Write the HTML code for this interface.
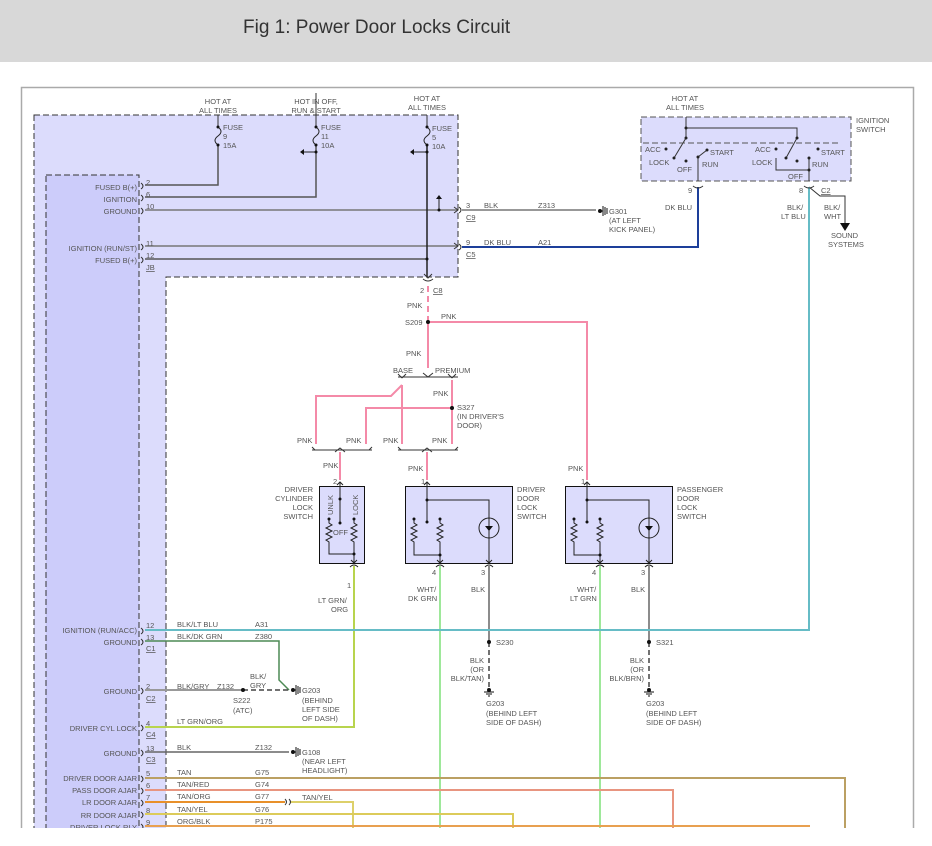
<!DOCTYPE html>
<html><head><meta charset="utf-8"><style>
html,body{margin:0;padding:0;background:#fff;width:932px;height:846px;overflow:hidden}
svg{display:block}
text{font-family:"Liberation Sans",sans-serif;font-size:7.5px;fill:#555}
.r{text-anchor:end}
.u{text-decoration:underline}
</style></head><body>
<svg width="932" height="846" viewBox="0 0 932 846" xmlns="http://www.w3.org/2000/svg">
<rect x="0" y="0" width="932" height="62" fill="#d8d8d8"/>
<text x="243" y="33" style="font-size:19px;fill:#333">Fig 1: Power Door Locks Circuit</text>
<rect x="21.5" y="87.5" width="892" height="770" fill="none" stroke="#aaa" stroke-width="1.5"/>

<!-- module -->
<path d="M34,115 H458 V277 H166 V846 H34 Z" fill="#dcdcfc" stroke="#333" stroke-dasharray="6,3"/>
<path d="M46,175 H139 V846 H46 Z" fill="#ccccfa" stroke="#333" stroke-dasharray="6,3"/>

<!-- ignition switch box -->
<rect x="641" y="117" width="210" height="64" fill="#dcdcfc" stroke="#555" stroke-dasharray="6,3"/>
<text x="856" y="123">IGNITION</text><text x="856" y="132">SWITCH</text>
<text x="685" y="101" text-anchor="middle">HOT AT</text><text x="685" y="110" text-anchor="middle">ALL TIMES</text>
<g stroke="#333" fill="none" stroke-width="1">
<path d="M686,117 V128 H797 V138"/><path d="M686,128 V138"/>
<path d="M686,138 L674,158"/><path d="M797,138 L786,158"/>
<path d="M698,157 L707,150"/><path d="M698,157 V181"/>
<path d="M776,158 V170 H809 V181"/><path d="M809,158 V170"/>
<path d="M643,143 H841" stroke-dasharray="6,3" stroke="#555"/>
</g>
<g fill="#222"><circle cx="686" cy="128" r="1.5"/><circle cx="686" cy="138" r="1.5"/><circle cx="797" cy="138" r="1.5"/><circle cx="666" cy="149" r="1.5"/><circle cx="674" cy="158" r="1.5"/><circle cx="686" cy="161" r="1.5"/><circle cx="707" cy="150" r="1.5"/><circle cx="698" cy="157" r="1.5"/><circle cx="776" cy="149" r="1.5"/><circle cx="786" cy="158" r="1.5"/><circle cx="797" cy="161" r="1.5"/><circle cx="818" cy="149" r="1.5"/><circle cx="809" cy="158" r="1.5"/><circle cx="809" cy="170" r="1.5"/></g>
<text x="645" y="152">ACC</text><text x="649" y="165">LOCK</text><text x="677" y="172">OFF</text><text x="710" y="155">START</text><text x="702" y="167">RUN</text>
<text x="755" y="152">ACC</text><text x="752" y="165">LOCK</text><text x="788" y="179">OFF</text><text x="821" y="155">START</text><text x="812" y="167">RUN</text>
<text x="688" y="193">9</text><text x="799" y="193">8</text><text x="821" y="193" class="u">C2</text>
<text x="665" y="210">DK BLU</text><text x="787" y="210">BLK/</text><text x="781" y="219">LT BLU</text>
<text x="824" y="210">BLK/</text><text x="824" y="219">WHT</text>
<text x="831" y="238">SOUND</text><text x="828" y="247">SYSTEMS</text>
<path d="M809,187 L820,196 H845 V226" stroke="#333" fill="none"/>
<path d="M840,223 H850 L845,231 Z" fill="#111"/>

<!-- wires -->
<g fill="none" stroke-width="1.5">
<path d="M145,185 H218 V146" stroke="#555"/>
<path d="M145,197 H316 V145" stroke="#555"/>
<path d="M145,210 H458" stroke="#777"/>
<path d="M462,210 H596" stroke="#777"/>
<path d="M145,246 H458" stroke="#777"/>
<path d="M462,247 H698 V187" stroke="#1d3f9a" stroke-width="2"/>
<path d="M145,259 H427" stroke="#555"/>
<path d="M427,145 V277" stroke="#222"/>
<path d="M218,115 V126 M316,93 V126 M427,115 V126" stroke="#333" stroke-width="1"/>
<path d="M428,286 V322" stroke="#f48aa8" stroke-width="2" stroke-dasharray="6,4"/>
<path d="M428,322 V368 M428,322 H587 V480" stroke="#f48aa8" stroke-width="2"/>
<path d="M402,385 L391,396 H316 V444 M402,385 V444 M452,380 V444 M452,408 H366 V444" stroke="#f48aa8" stroke-width="2"/>
<path d="M340,452 V480 M427,452 V480" stroke="#f48aa8" stroke-width="2"/>
<path d="M354,566 V727 H145" stroke="#b8d44e" stroke-width="2"/>
<path d="M440,566 V846" stroke="#9ee89a" stroke-width="2"/>
<path d="M600,566 V846" stroke="#9ee89a" stroke-width="2"/>
<path d="M489,566 V642 M649,566 V642" stroke="#666" stroke-width="1.5"/>
<path d="M489,642 V688 M649,642 V688" stroke="#444" stroke-dasharray="5,3" stroke-width="1.5"/>
<path d="M809,187 V630 H145" stroke="#66bcc6" stroke-width="2"/>
<path d="M145,641 H279 V680 L289,690" stroke="#4d8a55" stroke-width="1.5"/>
<path d="M145,690 H243" stroke="#999" stroke-width="2"/>
<path d="M243,690 H289" stroke="#444" stroke-dasharray="5,3" stroke-width="1.5"/>
<path d="M145,752 H289" stroke="#666" stroke-width="1.5"/>
<path d="M145,778 H845 V846" stroke="#bba063" stroke-width="2"/>
<path d="M145,790 H673 V846" stroke="#e89580" stroke-width="2"/>
<path d="M145,802 H285" stroke="#e8902a" stroke-width="2"/>
<path d="M290,802 H353 V846" stroke="#ddd06a" stroke-width="2"/>
<path d="M145,814 H513 V846" stroke="#dccb5a" stroke-width="2"/>
<path d="M145,826 H810" stroke="#e8a050" stroke-width="2"/>
</g>

<!-- fuses -->
<g fill="none" stroke="#222">
<path d="M218,127 c4,3 4,6 0,9 c-4,3 -4,6 0,9"/>
<path d="M316,127 c4,3 4,6 0,9 c-4,3 -4,6 0,9"/>
<path d="M427,127 c4,3 4,6 0,9 c-4,3 -4,6 0,9"/>
<path d="M316,152 H303 M427,152 H413 M439,210 V198"/>
</g>
<g fill="#111">
<circle cx="218" cy="127" r="1.5"/><circle cx="218" cy="145" r="1.5"/><circle cx="316" cy="127" r="1.5"/><circle cx="316" cy="145" r="1.5"/><circle cx="316" cy="152" r="1.5"/>
<circle cx="427" cy="127" r="1.5"/><circle cx="427" cy="145" r="1.5"/><circle cx="427" cy="152" r="1.5"/><circle cx="439" cy="210" r="1.5"/><circle cx="427" cy="259" r="1.5"/>
<path d="M300,152 l4,-3 v6z M410,152 l4,-3 v6z M439,195 l-3,4 h6z"/>
<circle cx="428" cy="322" r="2"/><circle cx="452" cy="408" r="2"/><circle cx="489" cy="642" r="2"/><circle cx="649" cy="642" r="2"/><circle cx="243" cy="690" r="2"/>
</g>
<text x="218" y="104" text-anchor="middle">HOT AT</text><text x="218" y="113" text-anchor="middle">ALL TIMES</text>
<text x="316" y="104" text-anchor="middle">HOT IN OFF,</text><text x="316" y="113" text-anchor="middle">RUN &amp; START</text>
<text x="427" y="101" text-anchor="middle">HOT AT</text><text x="427" y="110" text-anchor="middle">ALL TIMES</text>
<text x="223" y="130">FUSE</text><text x="223" y="139">9</text><text x="223" y="148">15A</text>
<text x="321" y="130">FUSE</text><text x="321" y="139">11</text><text x="321" y="148">10A</text>
<text x="432" y="131">FUSE</text><text x="432" y="140">5</text><text x="432" y="149">10A</text>

<!-- module pin labels -->
<g>
<text x="137" y="190" class="r">FUSED B(+)</text><text x="146" y="185">2</text>
<text x="137" y="202" class="r">IGNITION</text><text x="146" y="197">6</text>
<text x="137" y="214" class="r">GROUND</text><text x="146" y="209">10</text>
<text x="137" y="251" class="r">IGNITION (RUN/ST)</text><text x="146" y="246">11</text>
<text x="137" y="263" class="r">FUSED B(+)</text><text x="146" y="258">12</text><text x="146" y="270" class="u">JB</text>
<text x="137" y="633" class="r">IGNITION (RUN/ACC)</text><text x="146" y="628">12</text>
<text x="137" y="645" class="r">GROUND</text><text x="146" y="640">13</text><text x="146" y="651" class="u">C1</text>
<text x="137" y="694" class="r">GROUND</text><text x="146" y="689">2</text><text x="146" y="701" class="u">C2</text>
<text x="137" y="731" class="r">DRIVER CYL LOCK</text><text x="146" y="726">4</text><text x="146" y="737" class="u">C4</text>
<text x="137" y="756" class="r">GROUND</text><text x="146" y="751">13</text><text x="146" y="762" class="u">C3</text>
<text x="137" y="781" class="r">DRIVER DOOR AJAR</text><text x="146" y="776">5</text>
<text x="137" y="793" class="r">PASS DOOR AJAR</text><text x="146" y="788">6</text>
<text x="137" y="805" class="r">LR DOOR AJAR</text><text x="146" y="800">7</text>
<text x="137" y="818" class="r">RR DOOR AJAR</text><text x="146" y="813">8</text>
<text x="137" y="830" class="r">DRIVER LOCK RLY</text><text x="146" y="825">9</text>
</g>
<g fill="none" stroke="#333">
<path d="M141,183 q4,3 0,6 M141,195 q4,3 0,6 M141,208 q4,3 0,6 M141,244 q4,3 0,6 M141,257 q4,3 0,6 M141,628 q4,3 0,6 M141,639 q4,3 0,6 M141,688 q4,3 0,6 M141,725 q4,3 0,6 M141,750 q4,3 0,6 M141,776 q4,3 0,6 M141,788 q4,3 0,6 M141,800 q4,3 0,6 M141,812 q4,3 0,6 M141,824 q4,3 0,6"/>
<path d="M459,207 q4,3 0,6 M459,244 q4,3 0,6 M454,207 l4,3 l-4,3 M454,243 l4,3 l-4,3"/>
<path d="M423,279 q5,4 10,0 M424,274 l4,4 l4,-4"/>
<path d="M285,799 q3,3 0,6 M289,799 q3,3 0,6"/>
<path d="M398,377 H458 M423,373 l5,4 l5,-4 M398,374 l4,4 M406,374 l-4,4 M448,374 l4,4 M456,374 l-4,4"/>
<path d="M312,450 H372 M335,452 l5,-4 l5,4 M312,447 l3,3 M372,447 l-3,3"/>
<path d="M398,450 H458 M422,452 l5,-4 l5,4 M398,447 l3,3 M458,447 l-3,3"/>
<path d="M693,186 q5,4 10,0 M804,186 q5,4 10,0"/>
</g>
<text x="420" y="293">2</text><text x="433" y="293" class="u">C8</text>
<text x="466" y="208">3</text><text x="484" y="208">BLK</text><text x="538" y="208">Z313</text><text x="466" y="220" class="u">C9</text>
<text x="466" y="245">9</text><text x="484" y="245">DK BLU</text><text x="538" y="245">A21</text><text x="466" y="257" class="u">C5</text>
<g stroke="#111" fill="#111"><circle cx="600" cy="211" r="1.5"/><path d="M600,211 H603 M603,206 V216 M605,207 V215 M607,208 V214" fill="none"/>
<circle cx="293" cy="690" r="1.5"/><path d="M293,690 H296 M296,685 V695 M298,686 V694 M300,687 V693" fill="none"/>
<circle cx="293" cy="752" r="1.5"/><path d="M293,752 H296 M296,747 V757 M298,748 V756 M300,749 V755" fill="none"/>
<circle cx="489" cy="690" r="1.5"/><path d="M484,692 H494 M486,694 H492 M488,696 H490" fill="none"/>
<circle cx="649" cy="690" r="1.5"/><path d="M644,692 H654 M646,694 H652 M648,696 H650" fill="none"/></g>
<text x="609" y="214">G301</text><text x="609" y="223">(AT LEFT</text><text x="609" y="232">KICK PANEL)</text>
<text x="407" y="308">PNK</text><text x="406" y="356">PNK</text><text x="405" y="325">S209</text><text x="441" y="319">PNK</text>
<text x="393" y="373">BASE</text><text x="435" y="373">PREMIUM</text>
<text x="433" y="396">PNK</text><text x="457" y="410">S327</text><text x="457" y="419">(IN DRIVER'S</text><text x="457" y="428">DOOR)</text>
<text x="297" y="443">PNK</text><text x="346" y="443">PNK</text><text x="383" y="443">PNK</text><text x="432" y="443">PNK</text>
<text x="323" y="468">PNK</text><text x="408" y="471">PNK</text><text x="568" y="471">PNK</text>
<text x="333" y="484">2</text><text x="421" y="484">1</text><text x="581" y="484">1</text>

<!-- switch boxes -->
<rect x="319.5" y="486.5" width="45" height="77" fill="#dcdcfc" stroke="#111"/>
<rect x="405.5" y="486.5" width="107" height="77" fill="#dcdcfc" stroke="#111"/>
<rect x="565.5" y="486.5" width="107" height="77" fill="#dcdcfc" stroke="#111"/>
<g fill="none" stroke="#222">
<path d="M340,482 V523 M329,520 V523 l3,2 l-6,3 l6,3 l-6,3 l6,3 l-6,3 l3,2 V554 H354 M354,520 V523 l3,2 l-6,3 l6,3 l-6,3 l6,3 l-6,3 l3,2 V563"/>
<path d="M427,482 V500 H489 V563 M427,500 V522 M414,519 V523 l3,2 l-6,3 l6,3 l-6,3 l6,3 l-6,3 l3,2 V555 H440 M440,519 V523 l3,2 l-6,3 l6,3 l-6,3 l6,3 l-6,3 l3,2 V563"/>
<path d="M587,482 V500 H649 V563 M587,500 V522 M574,519 V523 l3,2 l-6,3 l6,3 l-6,3 l6,3 l-6,3 l3,2 V555 H600 M600,519 V523 l3,2 l-6,3 l6,3 l-6,3 l6,3 l-6,3 l3,2 V563"/>
<circle cx="489" cy="528" r="10"/><circle cx="649" cy="528" r="10"/>
<path d="M337,485 l3,-3 l3,3 M351,560 l3,3 l3,-3 M424,485 l3,-3 l3,3 M437,560 l3,3 l3,-3 M486,560 l3,3 l3,-3 M584,485 l3,-3 l3,3 M597,560 l3,3 l3,-3 M646,560 l3,3 l3,-3"/>
<path d="M350,567 q4,-4 8,0 M436,567 q4,-4 8,0 M485,567 q4,-4 8,0 M596,567 q4,-4 8,0 M645,567 q4,-4 8,0"/>
</g>
<g fill="#111"><path d="M485,526 h8 l-4,5z M645,526 h8 l-4,5z"/><circle cx="340" cy="499" r="1.5"/><circle cx="329" cy="519" r="1.5"/><circle cx="354" cy="519" r="1.5"/><circle cx="340" cy="523" r="1.5"/><circle cx="354" cy="554" r="1.5"/>
<circle cx="427" cy="500" r="1.5"/><circle cx="427" cy="522" r="1.5"/><circle cx="414" cy="519" r="1.5"/><circle cx="440" cy="519" r="1.5"/><circle cx="440" cy="555" r="1.5"/>
<circle cx="587" cy="500" r="1.5"/><circle cx="587" cy="522" r="1.5"/><circle cx="574" cy="519" r="1.5"/><circle cx="600" cy="519" r="1.5"/><circle cx="600" cy="555" r="1.5"/></g>
<text transform="translate(333,515) rotate(-90)">UNLK</text><text transform="translate(358,515) rotate(-90)">LOCK</text><text x="333" y="535">OFF</text>
<text x="313" y="492" class="r">DRIVER</text><text x="313" y="501" class="r">CYLINDER</text><text x="313" y="510" class="r">LOCK</text><text x="313" y="519" class="r">SWITCH</text>
<text x="517" y="492">DRIVER</text><text x="517" y="501">DOOR</text><text x="517" y="510">LOCK</text><text x="517" y="519">SWITCH</text>
<text x="677" y="492">PASSENGER</text><text x="677" y="501">DOOR</text><text x="677" y="510">LOCK</text><text x="677" y="519">SWITCH</text>
<text x="347" y="588">1</text><text x="432" y="575">4</text><text x="481" y="575">3</text><text x="592" y="575">4</text><text x="641" y="575">3</text>
<text x="318" y="603">LT GRN/</text><text x="331" y="612">ORG</text>
<text x="417" y="592">WHT/</text><text x="408" y="601">DK GRN</text><text x="471" y="592">BLK</text>
<text x="577" y="592">WHT/</text><text x="570" y="601">LT GRN</text><text x="631" y="592">BLK</text>
<text x="496" y="645">S230</text><text x="656" y="645">S321</text>
<text x="484" y="663" class="r">BLK</text><text x="484" y="672" class="r">(OR</text><text x="484" y="681" class="r">BLK/TAN)</text>
<text x="644" y="663" class="r">BLK</text><text x="644" y="672" class="r">(OR</text><text x="644" y="681" class="r">BLK/BRN)</text>
<text x="486" y="706">G203</text><text x="486" y="716">(BEHIND LEFT</text><text x="486" y="725">SIDE OF DASH)</text>
<text x="646" y="706">G203</text><text x="646" y="716">(BEHIND LEFT</text><text x="646" y="725">SIDE OF DASH)</text>
<text x="177" y="627">BLK/LT BLU</text><text x="255" y="627">A31</text>
<text x="177" y="639">BLK/DK GRN</text><text x="255" y="639">Z380</text>
<text x="177" y="689">BLK/GRY</text><text x="217" y="689">Z132</text><text x="250" y="679">BLK/</text><text x="250" y="688">GRY</text>
<text x="233" y="703">S222</text><text x="233" y="713">(ATC)</text>
<text x="302" y="693">G203</text><text x="302" y="703">(BEHIND</text><text x="302" y="712">LEFT SIDE</text><text x="302" y="721">OF DASH)</text>
<text x="177" y="724">LT GRN/ORG</text>
<text x="177" y="750">BLK</text><text x="255" y="750">Z132</text>
<text x="302" y="755">G108</text><text x="302" y="764">(NEAR LEFT</text><text x="302" y="773">HEADLIGHT)</text>
<text x="177" y="775">TAN</text><text x="255" y="775">G75</text>
<text x="177" y="787">TAN/RED</text><text x="255" y="787">G74</text>
<text x="177" y="799">TAN/ORG</text><text x="255" y="799">G77</text><text x="302" y="800">TAN/YEL</text>
<text x="177" y="812">TAN/YEL</text><text x="255" y="812">G76</text>
<text x="177" y="824">ORG/BLK</text><text x="255" y="824">P175</text>
<rect x="0" y="828" width="932" height="18" fill="#fff"/>
</svg>
</body></html>
